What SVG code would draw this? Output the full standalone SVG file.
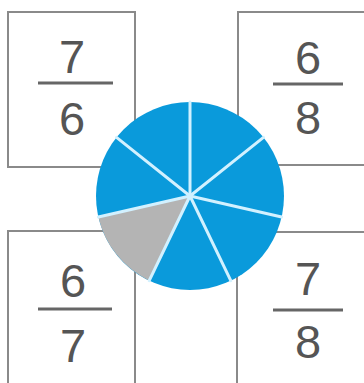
<svg xmlns="http://www.w3.org/2000/svg" width="364" height="383" viewBox="0 0 364 383">
<style>
.box{fill:#fff;stroke:#8a8a8a;stroke-width:2}
.num{font-family:"Liberation Sans",Arial,sans-serif;font-size:47px;fill:#555;text-anchor:middle}
.bar{stroke:#666;stroke-width:3}
.div{stroke:#d2f1ff;stroke-width:3;stroke-linecap:round}
</style>
<rect width="364" height="383" fill="#fff"/>
<g id="card-tl">
<rect class="box" x="8" y="12" width="127" height="155"/>
<text class="num" x="72" y="73">7</text>
<line class="bar" x1="38" y1="83" x2="113" y2="83"/>
<text class="num" x="72" y="135">6</text>
</g>
<g id="card-tr">
<rect class="box" x="238" y="12" width="128" height="153"/>
<text class="num" x="308" y="74">6</text>
<line class="bar" x1="273" y1="84" x2="343" y2="84"/>
<text class="num" x="308" y="134">8</text>
</g>
<g id="card-bl">
<rect class="box" x="8" y="231" width="127" height="160"/>
<text class="num" x="73" y="297">6</text>
<line class="bar" x1="38" y1="309" x2="112" y2="309"/>
<text class="num" x="73" y="362">7</text>
</g>
<g id="card-br">
<rect class="box" x="237" y="232" width="129" height="160"/>
<text class="num" x="308" y="295">7</text>
<line class="bar" x1="273" y1="310" x2="343" y2="310"/>
<text class="num" x="308" y="358">8</text>
</g>
<g id="pie">
<circle cx="190" cy="196" r="94" fill="#0a9adb"/>
<path d="M190,196 L149.21,280.69 A94,94 0 0 1 98.36,216.92 Z" fill="#b4b4b4"/>
</g>
<g id="connectors">
<line class="div" x1="190" y1="196" x2="190" y2="102"/>
<line class="div" x1="190" y1="196" x2="263.49" y2="137.39"/>
<line class="div" x1="190" y1="196" x2="281.64" y2="216.92"/>
<line class="div" x1="190" y1="196" x2="230.79" y2="280.69"/>
<line class="div" x1="190" y1="196" x2="149.21" y2="280.69"/>
<line class="div" x1="190" y1="196" x2="98.36" y2="216.92"/>
<line class="div" x1="190" y1="196" x2="116.51" y2="137.39"/>
</g>
</svg>
